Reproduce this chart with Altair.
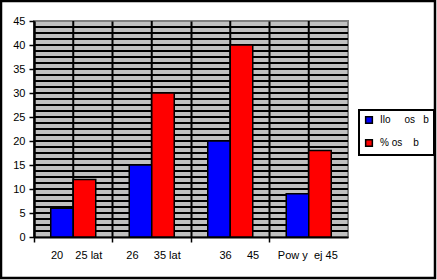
import altair as alt
import pandas as pd

NB = "\u00a0"
categories = [
    "20" + NB * 4 + "25 lat",
    "26" + NB * 5 + "35 lat",
    "36" + NB * 5 + "45",
    "Pow" + NB + "y" + NB * 2 + "ej" + NB + "45",
]
series_names = ["Ilo" + NB * 5 + "os" + NB * 3 + "b", "%" + NB + "os" + NB * 4 + "b"]
count_values = [6, 15, 20, 9]
percent_values = [12, 30, 40, 18]
y_ticks = [0, 5, 10, 15, 20, 25, 30, 35, 40, 45]
stripe_step = 1.25
stripes = [45 - stripe_step * k for k in range(1, 36)]

rows = []
for c, a, b in zip(categories, count_values, percent_values):
    rows.append({"cat": c, "series": series_names[0], "value": a})
    rows.append({"cat": c, "series": series_names[1], "value": b})
df = pd.DataFrame(rows)

FONT = "Liberation Sans"
W, H = 314, 216

x_axis = alt.Axis(
    bandPosition=0,
    labelAngle=0,
    labelOffset=29,
    labelFont=FONT,
    labelFontSize=11,
    labelColor="black",
    labelPadding=13,
    labelOverlap=False,
    tickColor="black",
    tickSize=5,
    tickWidth=1.5,
    domainColor="black",
    domainWidth=2,
    grid=True,
    gridColor="black",
    gridWidth=2,
)
y_axis = alt.Axis(
    values=y_ticks,
    grid=False,
    labelOverlap=False,
    labelFont=FONT,
    labelFontSize=11,
    labelColor="black",
    labelPadding=4,
    tickColor="black",
    tickSize=5,
    tickWidth=1.5,
    domainColor="black",
    domainWidth=2,
)
y_scale = alt.Scale(domain=[0, 45], nice=False)

stripe_layer = alt.Chart(pd.DataFrame({"s": stripes})).mark_rule(
    color="black", strokeWidth=2
).encode(y=alt.Y("s:Q", scale=y_scale, axis=y_axis, title=None))

center_layer = alt.Chart(pd.DataFrame({"cat": categories})).mark_rule(
    color="black", strokeWidth=2
).encode(x=alt.X("cat:N", sort=categories))

bars = alt.Chart(df).mark_bar(stroke="black", strokeWidth=1.5).encode(
    x=alt.X(
        "cat:N", sort=categories, title=None,
        scale=alt.Scale(paddingInner=0, paddingOuter=0), axis=x_axis,
    ),
    xOffset=alt.XOffset(
        "series:N", sort=series_names,
        scale=alt.Scale(paddingInner=0, paddingOuter=0.744),
    ),
    y=alt.Y("value:Q", scale=y_scale, axis=y_axis, title=None),
    color=alt.Color(
        "series:N",
        sort=series_names,
        scale=alt.Scale(domain=series_names, range=["#0000FF", "#FF0000"]),
        legend=alt.Legend(
            title=None,
            orient="none",
            legendX=325,
            legendY=89,
            strokeColor="black",
            fillColor="white",
            padding=5,
            rowPadding=9,
            symbolType="square",
            symbolSize=45,
            symbolStrokeColor="black",
            symbolStrokeWidth=1.5,
            labelOffset=6,
            labelFont=FONT,
            labelFontSize=10,
            labelColor="black",
            labelLimit=200,
        ),
    ),
)

frame = alt.Chart(pd.DataFrame({"f": [0]})).mark_rect(
    fill=None, stroke="black", strokeWidth=2.5
).encode(
    x=alt.value(-33), y=alt.value(-20), x2=alt.value(401), y2=alt.value(257)
)

chart = alt.layer(stripe_layer, center_layer, bars, frame).properties(
    width=W,
    height=H,
    autosize=alt.AutoSizeParams(type="none"),
    padding={"left": 34, "top": 21, "right": 89, "bottom": 43},
    background="white",
).configure_view(
    fill="#C0C0C0", stroke="#808080", strokeWidth=2
).configure_legend(strokeWidth=2)

chart.save("out.html", embed_options={"renderer": "svg", "actions": False})
